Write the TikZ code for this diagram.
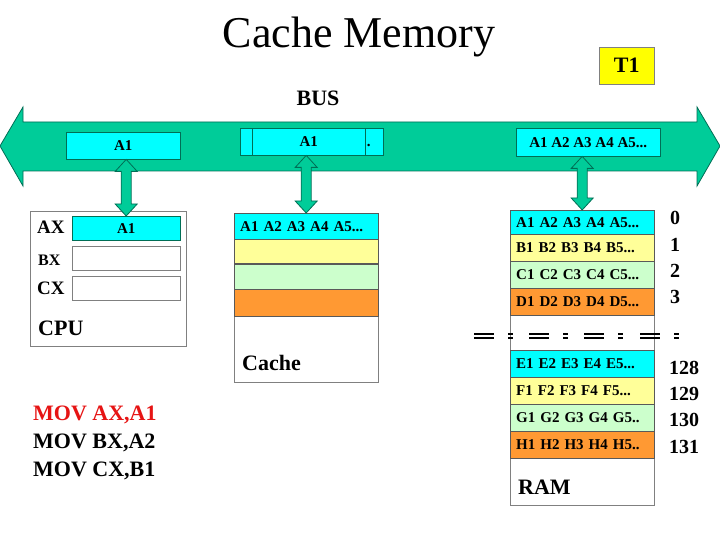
\documentclass[tikz,border=0pt]{standalone}
\usepackage{fontspec}
\setmainfont{Liberation Serif}
\usetikzlibrary{calc}
\definecolor{busgreen}{RGB}{0,204,153}
\definecolor{busline}{RGB}{0,110,85}
\definecolor{cellcyan}{RGB}{0,255,255}
\definecolor{cellyellow}{RGB}{255,255,153}
\definecolor{cellgreen}{RGB}{204,255,204}
\definecolor{cellorange}{RGB}{255,153,51}
\definecolor{tagyellow}{RGB}{255,255,0}
\definecolor{movred}{RGB}{230,20,20}

\begin{document}
\begin{tikzpicture}[x=1pt,y=-1pt,
    every node/.style={inner sep=0pt},
    big/.style={font=\bfseries\fontsize{22}{24}\selectfont},
    reg/.style={font=\bfseries\fontsize{19}{21}\selectfont, anchor=west},
    num/.style={font=\bfseries\fontsize{20}{22}\selectfont},
    frame/.style={draw=black!50, anchor=north west},
    cell/.style={draw=black!65, anchor=north west, minimum height=27pt, text width=132pt,
      inner xsep=6pt, align=left, font=\bfseries\fontsize{15}{17}\selectfont},
    slot/.style={draw=busline, fill=cellcyan, anchor=north west, minimum height=27pt,
      font=\bfseries\fontsize{15}{17}\selectfont},
    regbox/.style={draw=black!50, anchor=north west, minimum width=108pt, minimum height=24pt,
      font=\bfseries\fontsize{15}{17}\selectfont},
    busbody/.style={draw=busline, fill=busgreen, line width=0.8pt},
    link/.style={busbody, to path={let \p1=(\tikztostart), \p2=(\tikztotarget) in
      (\x2,\y1) -- (\x2+11pt,\y1-12pt) -- (\x2+5pt,\y1-12pt) -- (\x2+5pt,\y2+12pt)
      -- (\x2+11pt,\y2+12pt) -- (\x2,\y2) -- (\x2-11pt,\y2+12pt) -- (\x2-5pt,\y2+12pt)
      -- (\x2-5pt,\y1-12pt) -- (\x2-11pt,\y1-12pt) -- cycle}},
    dashmark/.style={line width=1.2pt}]
  \useasboundingbox (0,0) rectangle (720,540);

  \node[font=\fontsize{44}{48}\selectfont, anchor=base] (title) at (359,48) {Cache Memory};
  \node[draw=black!50, fill=tagyellow, minimum width=55pt, minimum height=37pt, big,
    anchor=north west] (t1) at (599,47) {T1};
  \node[big, anchor=base] (buslabel) at (318,106) {BUS};

  \draw[busbody] (0,146) -- (23,107) -- (23,122) -- (697,122) -- (697,107) -- (720,146)
    -- (697,186) -- (697,171) -- (23,171) -- (23,186) -- cycle;
  \node[slot, minimum width=114pt] (bA1) at (66,132) {A1};
  \node[slot, minimum width=143pt] (bA2back) at (240,128) {A1 A2 A3 A4 A5.{}.{}.};
  \node[slot, minimum width=113pt] (bA2) at (252,128) {A1};
  \node[slot, minimum width=144pt, minimum height=28pt] (bA3) at (516,128) {A1 A2 A3 A4 A5.{}.{}.};

  \node[frame, minimum width=156pt, minimum height=135pt] (cpu) at (30,211) {};
  \node[reg] (axl) at (37,227) {AX};
  \node[reg, font=\bfseries\fontsize{16}{18}\selectfont] (bxl) at (38,260) {BX};
  \node[reg] (cxl) at (37,288) {CX};
  \node[big, anchor=west] (cpul) at (38,328) {CPU};
  \node[regbox, fill=cellcyan, draw=busline] (ax) at (72,216) {A1};
  \node[regbox] (bx) at (72,246) {};
  \node[regbox] (cx) at (72,276) {};

  \node[frame, minimum width=144pt, minimum height=169pt] (cache) at (234,213) {};
  \node[cell, fill=cellcyan, minimum height=26pt] (c0) at (cache.north west) {A1 A2 A3 A4 A5.{}.{}.};
  \node[cell, fill=cellyellow, minimum height=24pt] (c1) at (c0.south west) {};
  \node[cell, fill=cellgreen, minimum height=25pt] (c2) at (c1.south west) {};
  \node[cell, fill=cellorange] (c3) at (c2.south west) {};
  \node[big, anchor=west] (cachel) at (242,363) {Cache};

  \node[frame, minimum width=144pt, minimum height=295pt] (ram) at (510,210) {};
  \foreach \y/\h/\c/\t [count=\i from 0] in {
      210/24/cellcyan/A1 A2 A3 A4 A5.{}.{}., 234/27/cellyellow/B1 B2 B3 B4 B5.{}.{}.,
      261/27/cellgreen/C1 C2 C3 C4 C5.{}.{}., 288/27/cellorange/D1 D2 D3 D4 D5.{}.{}.,
      350/27/cellcyan/E1 E2 E3 E4 E5.{}.{}., 377/27/cellyellow/F1 F2 F3 F4 F5.{}.{}.,
      404/27/cellgreen/G1 G2 G3 G4 G5.{}., 431/27/cellorange/H1 H2 H3 H4 H5.{}.}
    \node[cell, fill=\c, minimum height=\h pt] (row\i) at (510,\y) {\t};
  \node[big, anchor=west] (raml) at (518,487) {RAM};

  \foreach \y/\v in {218/0, 245/1, 271/2, 297/3}
    \node[num] (n\v) at (675,\y) {\v};
  \foreach \y/\v in {368/128, 394/129, 420/130, 447/131}
    \node[num] (n\v) at (684,\y) {\v};

  \foreach \x in {474,529,584,640} {
    \draw[dashmark] (\x,334) -- ++(20,0) (\x,338) -- ++(20,0);
    \draw[dashmark] (\x+34,334) -- ++(5,0) (\x+34,338) -- ++(5,0);
  }

  \path[link] (bA1.south) to (ax.north);
  \path[link] (bA2.south) to (c0.north);
  \path[link] (bA3.south) to (row0.north);

  \node[big, anchor=west, text=movred] (mov1) at (33,415) {MOV AX,A1};
  \node[big, anchor=west] (mov2) at (33,443) {MOV BX,A2};
  \node[big, anchor=west] (mov3) at (33,471) {MOV CX,B1};
\end{tikzpicture}
\end{document}
